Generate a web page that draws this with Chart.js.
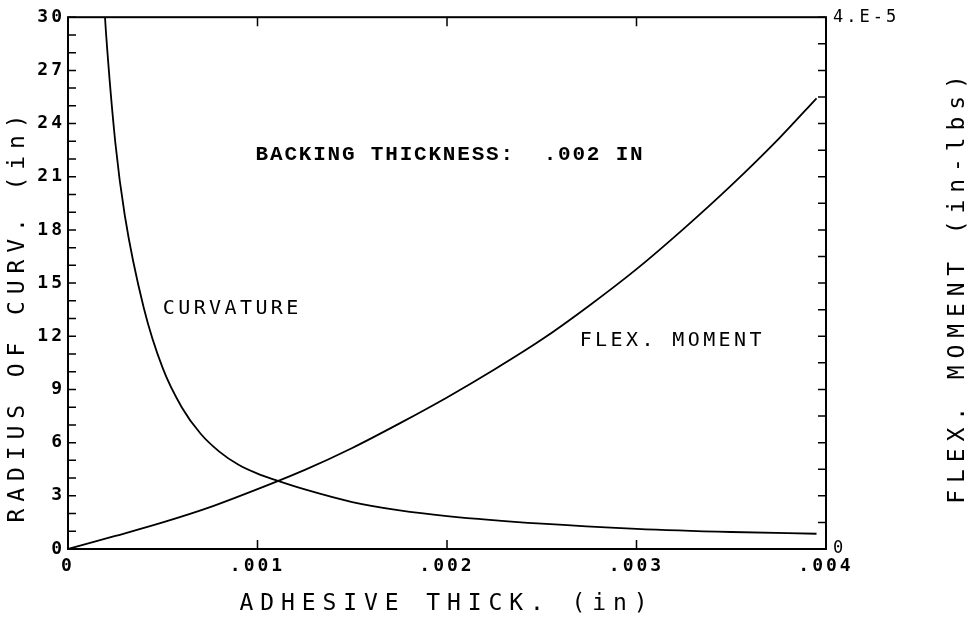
<!DOCTYPE html>
<html>
<head>
<meta charset="utf-8">
<script src="https://cdn.jsdelivr.net/npm/chart.js@4.4.1/dist/chart.umd.min.js"></script>
<style>
  html, body { margin: 0; padding: 0; background: #fff; }
  #wrap { width: 977px; height: 623px; position: relative; }
</style>
</head>
<body>
<div id="wrap"><canvas id="plot"></canvas></div>
<script>
// radius of curvature (in) vs adhesive thickness (in)
const curvThick = [0.00018, 0.0002, 0.00025, 0.0003, 0.0004, 0.0005, 0.0006, 0.0007, 0.0008, 0.0009,
                   0.001, 0.0011, 0.00125, 0.0015, 0.00175, 0.002, 0.0025, 0.003, 0.0035, 0.00395];
const curvRadius = [32.6, 29.2, 22.9, 18.8, 13.6, 10.2, 8.0, 6.5, 5.48, 4.75,
                    4.25, 3.87, 3.36, 2.65, 2.18, 1.86, 1.43, 1.14, 0.96, 0.86];

// flexural moment (in-lbs) vs adhesive thickness (in)
const momentThick = [0, 0.00025, 0.0005, 0.00075, 0.001, 0.00125, 0.0015, 0.00175, 0.002,
                     0.00225, 0.0025, 0.00275, 0.003, 0.00325, 0.0035, 0.00375, 0.00395];
const momentValue = [0, 0.98e-6, 2.0e-6, 3.15e-6, 4.5e-6, 5.95e-6, 7.6e-6, 9.45e-6, 11.4e-6,
                     13.5e-6, 15.75e-6, 18.3e-6, 21.05e-6, 24.1e-6, 27.35e-6, 30.85e-6, 33.9e-6];

// tick labels
const thickTickLabels = ['0', '.001', '.002', '.003', '.004'];
const radiusLabelEvery = 3;
const momentTickLabels = ['0', '4.E-5'];

const xTitle = 'ADHESIVE THICK. (in)';
const yTitle = 'RADIUS OF CURV. (in)';
const y1Title = 'FLEX. MOMENT (in-lbs)';
const backingNote = 'BACKING THICKNESS:  .002 IN';
const curvLabel = 'CURVATURE';
const momentLabel = 'FLEX. MOMENT';

const PLOT_FONT = '"DejaVu Sans Mono", monospace';

const toPoints = (xs, ys) => xs.map((x, i) => ({x: x, y: ys[i]}));

// ticks pointing into the plot, plus the frame and the text labels
const frameTicks = {
  id: 'frameTicks',
  beforeDraw(chart) {
    chart.ctx.letterSpacing = '3px';
  },
  afterDraw(chart) {
    const ctx = chart.ctx;
    const a = chart.chartArea;
    const sx = chart.scales.x, sy = chart.scales.y, sy1 = chart.scales.y1;
    ctx.save();
    ctx.strokeStyle = '#000';
    ctx.lineWidth = 2;
    ctx.strokeRect(a.left, a.top, a.right - a.left, a.bottom - a.top);

    ctx.lineWidth = 1.5;
    ctx.beginPath();
    sx.ticks.forEach(t => {
      const px = sx.getPixelForValue(t.value);
      if (px <= a.left + 1 || px >= a.right - 1) return;
      ctx.moveTo(px, a.bottom); ctx.lineTo(px, a.bottom - 9);
      ctx.moveTo(px, a.top); ctx.lineTo(px, a.top + 9);
    });
    sy.ticks.forEach(t => {
      const py = sy.getPixelForValue(t.value);
      ctx.moveTo(a.left, py); ctx.lineTo(a.left + 8, py);
    });
    sy1.ticks.forEach(t => {
      const py = sy1.getPixelForValue(t.value);
      ctx.moveTo(a.right, py); ctx.lineTo(a.right - 8, py);
    });
    ctx.stroke();

    // labels inside the plot
    ctx.fillStyle = '#000';
    ctx.textBaseline = 'middle';
    ctx.textAlign = 'left';
    ctx.font = 'bold 21px "Liberation Mono", monospace';
    ctx.letterSpacing = '1.8px';
    ctx.fillText(backingNote, sx.getPixelForValue(0.00099), sy.getPixelForValue(22.25));

    ctx.font = '20px ' + PLOT_FONT;
    ctx.letterSpacing = '3.4px';
    ctx.fillText(curvLabel, sx.getPixelForValue(0.0005), sy.getPixelForValue(13.55));
    ctx.fillText(momentLabel, sx.getPixelForValue(0.0027), sy.getPixelForValue(11.75));

    // axis titles
    ctx.font = '23px ' + PLOT_FONT;
    ctx.letterSpacing = '6.9px';
    ctx.textAlign = 'center';
    ctx.fillText(xTitle, (a.left + a.right) / 2, 604);

    ctx.save();
    ctx.translate(18, 315);
    ctx.rotate(-Math.PI / 2);
    ctx.fillText(yTitle, 0, 0);
    ctx.restore();

    ctx.save();
    ctx.translate(958, 286);
    ctx.rotate(-Math.PI / 2);
    ctx.fillText(y1Title, 0, 0);
    ctx.restore();

    ctx.restore();
  }
};

const ctx = document.getElementById('plot').getContext('2d');

const chart = new Chart(ctx, {
  type: 'line',
  data: {
    datasets: [
      {
        label: curvLabel,
        data: toPoints(curvThick, curvRadius),
        yAxisID: 'y',
        borderColor: '#000',
        borderWidth: 1.8,
        pointRadius: 0,
        cubicInterpolationMode: 'monotone',
        fill: false
      },
      {
        label: momentLabel,
        data: toPoints(momentThick, momentValue),
        yAxisID: 'y1',
        borderColor: '#000',
        borderWidth: 1.8,
        pointRadius: 0,
        cubicInterpolationMode: 'monotone',
        fill: false
      }
    ]
  },
  options: {
    responsive: true,
    maintainAspectRatio: false,
    animation: false,
    layout: { padding: { top: 16, left: 0, right: 0, bottom: 0 } },
    plugins: {
      legend: { display: false },
      tooltip: { enabled: false },
      title: { display: false }
    },
    scales: {
      x: {
        type: 'linear',
        min: 0,
        max: 0.004,
        grid: { display: false, drawTicks: false },
        border: { display: false },
        ticks: {
          stepSize: 0.001,
          autoSkip: false,
          maxRotation: 0,
          padding: 7,
          color: '#000',
          font: { family: PLOT_FONT, size: 18, weight: 'bold' },
          callback: (v) => thickTickLabels[Math.round(v * 1000)]
        },
        afterFit: (s) => { s.height = 74; }
      },
      y: {
        type: 'linear',
        position: 'left',
        min: 0,
        max: 30,
        grid: { display: false, drawTicks: false },
        border: { display: false },
        ticks: {
          stepSize: 1,
          autoSkip: false,
          padding: 3,
          color: '#000',
          font: { family: PLOT_FONT, size: 18, weight: 'bold' },
          callback: (v) => (Math.round(v) % radiusLabelEvery === 0 ? String(Math.round(v)) : '')
        },
        afterFit: (s) => { s.width = 68; }
      },
      y1: {
        type: 'linear',
        position: 'right',
        min: 0,
        max: 4e-5,
        grid: { display: false, drawTicks: false },
        border: { display: false },
        ticks: {
          stepSize: 2e-6,
          autoSkip: false,
          padding: 7,
          color: '#000',
          font: { family: PLOT_FONT, size: 17 },
          callback: (v, i, ticks) => (i === 0 ? momentTickLabels[0] : (i === ticks.length - 1 ? momentTickLabels[1] : ''))
        },
        afterFit: (s) => { s.width = 151; }
      }
    }
  },
  plugins: [frameTicks]
});
</script>
</body>
</html>
